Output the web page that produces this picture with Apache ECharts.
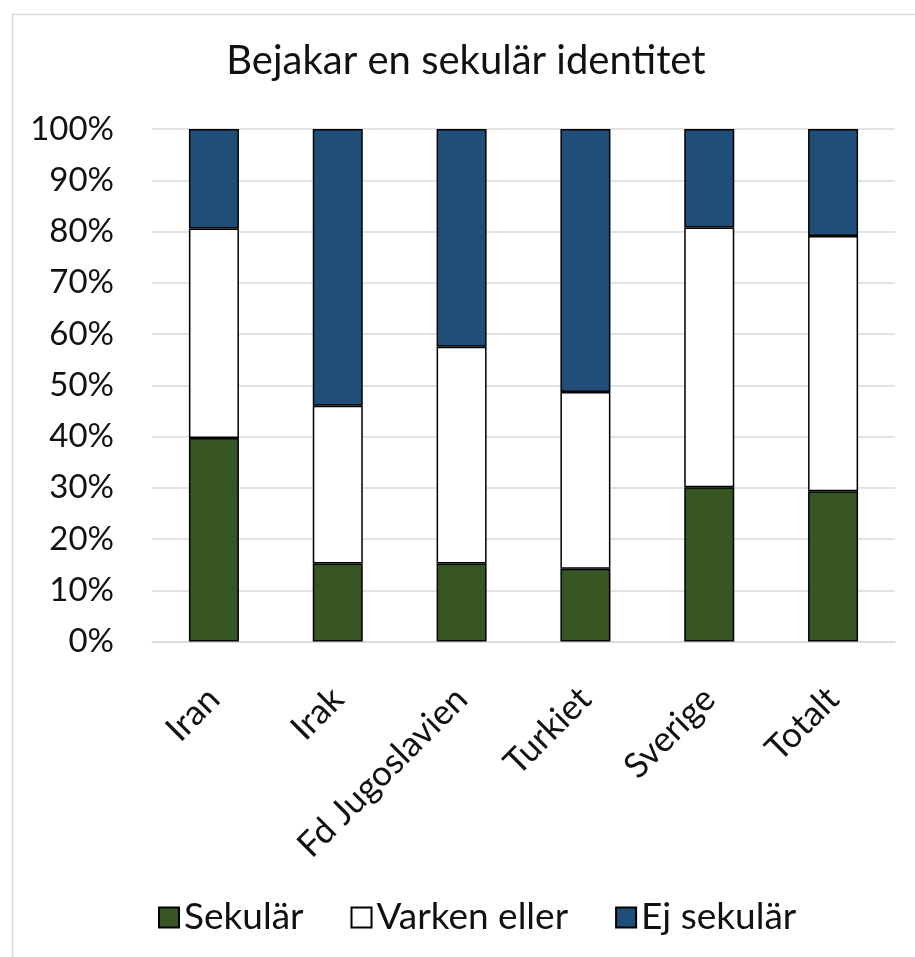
<!DOCTYPE html>
<html>
<head>
<meta charset="utf-8">
<script src="https://cdn.jsdelivr.net/npm/echarts@6/dist/echarts.min.js"></script>
<style>html,body{margin:0;padding:0;background:#fff}#c{width:915px;height:957px}</style>
</head>
<body>
<div id="c"></div>
<script>
const categories = ['Iran', 'Irak', 'Fd Jugoslavien', 'Turkiet', 'Sverige', 'Totalt'];
const sekular = [39.7, 15.2, 15.2, 14.2, 30.1, 29.3];
const varken = [40.9, 30.8, 42.3, 34.5, 50.7, 49.8];
const ejSekular = [19.4, 54.0, 42.5, 51.3, 19.2, 20.9];
const seriesNames = ['Sekulär', 'Varken eller', 'Ej sekulär'];
const colors = ['#375623', '#ffffff', '#1f4e79'];
const FONT = 'Lato, "Liberation Sans", sans-serif';

const chart = echarts.init(document.getElementById('c'), null, {renderer: 'canvas'});
const dataSets = [sekular, varken, ejSekular];
chart.setOption({
  animation: false,
  backgroundColor: '#fff',
  graphic: [{
    type: 'rect', left: 10, top: 12, z: -1,
    shape: {width: 920, height: 960},
    style: {fill: 'none', stroke: '#d9d9d9', lineWidth: 1.5}
  }],
  title: {
    text: 'Bejakar en sekulär identitet',
    left: 461, top: 36, textAlign: 'center',
    textStyle: {fontFamily: FONT, fontSize: 40, fontWeight: 'normal', color: '#111'}
  },
  legend: {
    top: 894, left: 153,
    itemWidth: 20, itemHeight: 20, itemGap: 47,
    icon: 'rect',
    textStyle: {fontFamily: FONT, fontSize: 37, color: '#111'},
    data: seriesNames
  },
  grid: {left: 152, right: 20, top: 129, bottom: 315.5, containLabel: false},
  xAxis: {
    type: 'category', data: categories,
    axisLine: {lineStyle: {color: '#d9d9d9', width: 1.5}},
    axisTick: {show: false},
    axisLabel: {rotate: 45, fontFamily: FONT, fontSize: 35, color: '#111', margin: 52, interval: 0}
  },
  yAxis: {
    type: 'value', min: 0, max: 100, interval: 10,
    axisLine: {show: false}, axisTick: {show: false},
    splitLine: {lineStyle: {color: '#d9d9d9', width: 1.5}},
    axisLabel: {formatter: '{value}%', fontFamily: FONT, fontSize: 33, color: '#111', margin: 38}
  },
  series: seriesNames.map((n, i) => ({
    name: n, type: 'bar', stack: 'total', barWidth: 50,
    data: dataSets[i],
    itemStyle: {color: colors[i], borderColor: '#000', borderWidth: 1.5}
  }))
});
</script>
</body>
</html>
